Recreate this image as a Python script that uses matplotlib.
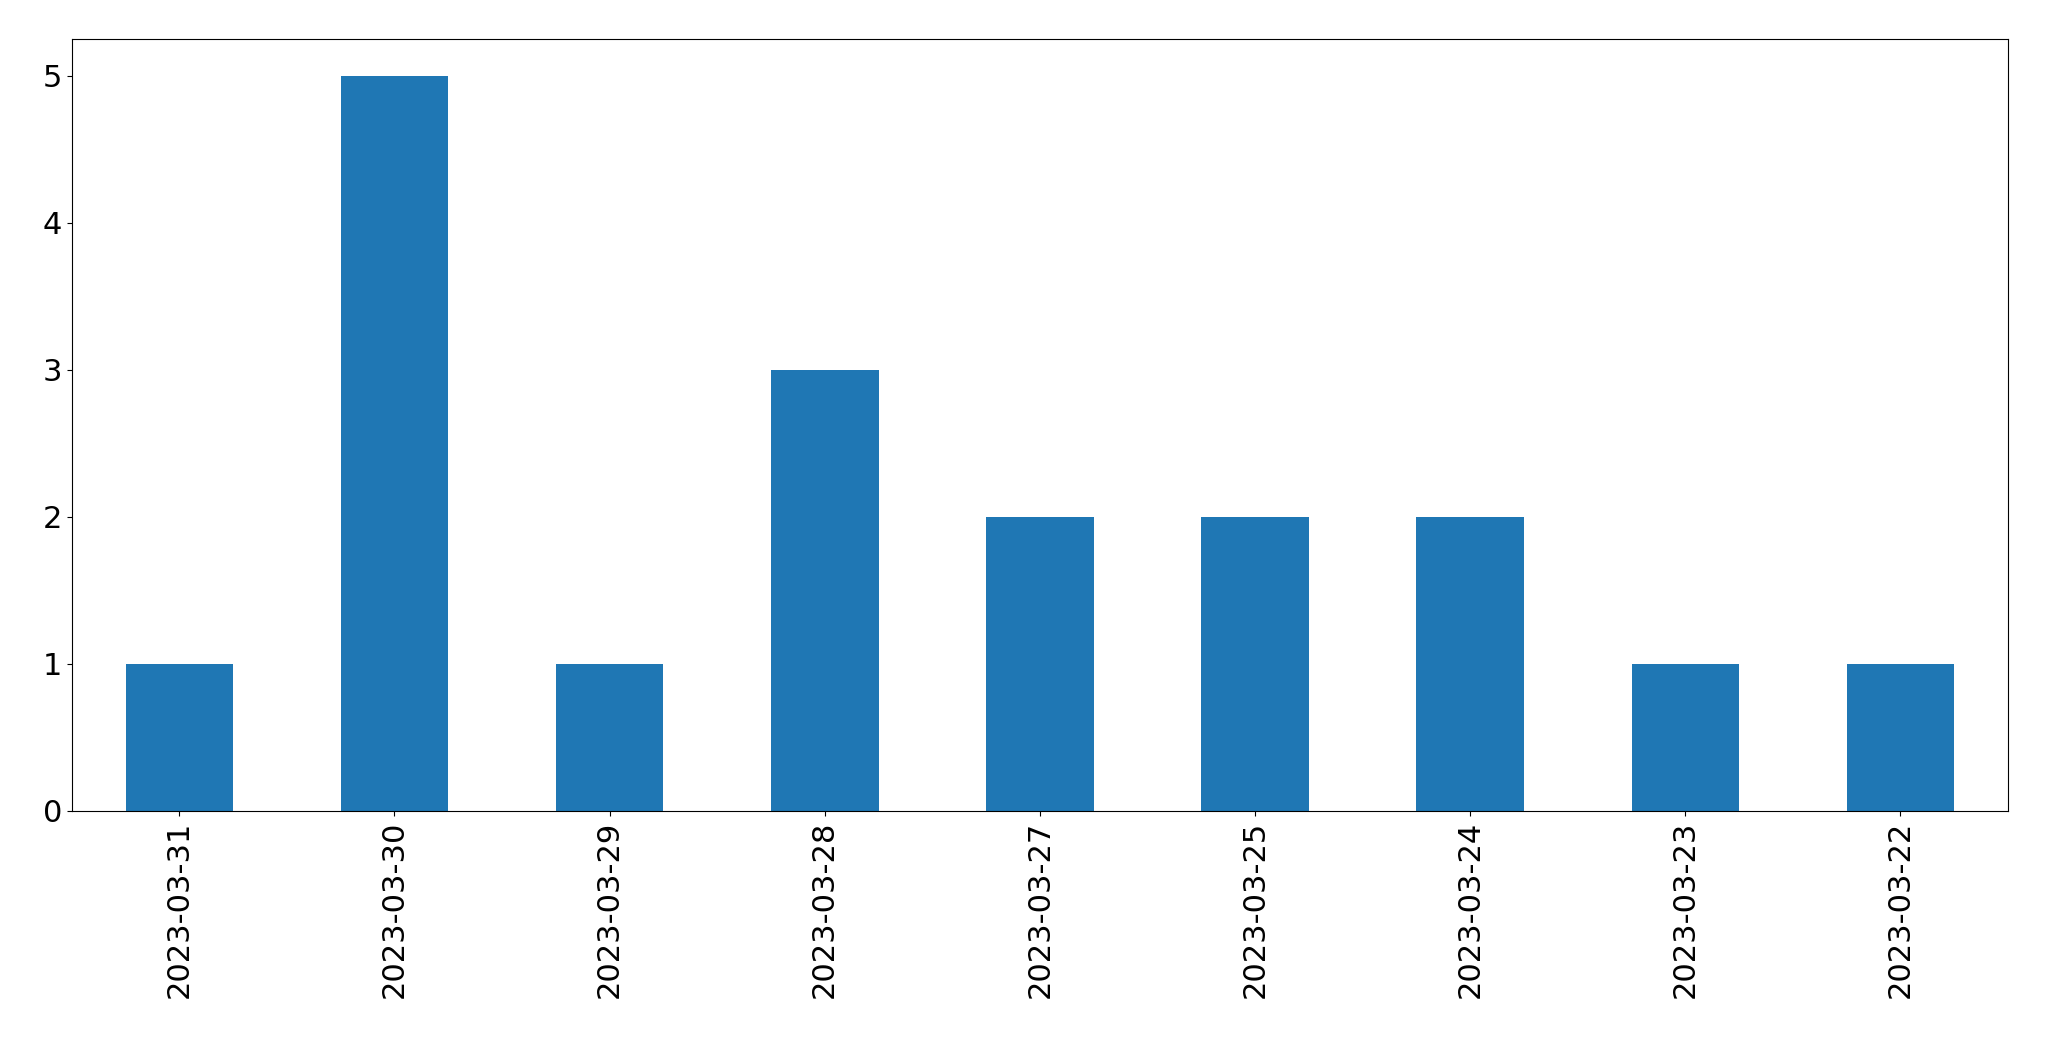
import matplotlib
matplotlib.use("Agg")
import matplotlib.pyplot as plt

dates = ["2023-03-31","2023-03-30","2023-03-29","2023-03-28","2023-03-27",
         "2023-03-25","2023-03-24","2023-03-23","2023-03-22"]
counts = [1,5,1,3,2,2,2,1,1]

fig = plt.figure(figsize=(20.49,10.61), dpi=100)
ax = fig.add_axes([0.035,0.236,0.945,0.727])
x = range(len(dates))
ax.bar(x, counts, width=0.5, color="#1f77b4")
ax.set_xticks(list(x))
ax.set_xticklabels(dates, rotation=90)
ax.set_xlim(-0.5, len(dates)-0.5)
ax.set_ylim(0, 5.25)
ax.tick_params(labelsize=22)
fig.savefig("out.png", dpi=100)
